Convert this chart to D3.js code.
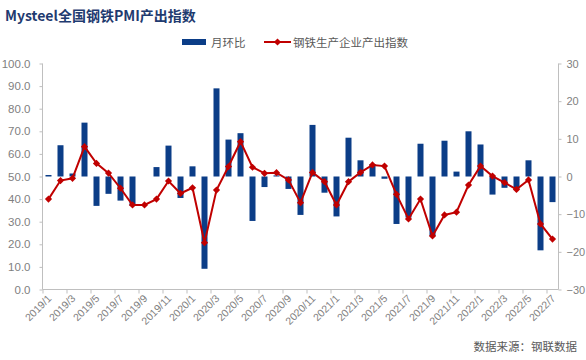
<!DOCTYPE html>
<html><head><meta charset="utf-8">
<script src="https://cdn.jsdelivr.net/npm/d3@7"></script>
<style>body{margin:0;background:#fff}svg{display:block}</style>
</head><body>
<svg id="c" width="586" height="360"></svg>
<script>
const months = ["2019/1","2019/2","2019/3","2019/4","2019/5","2019/6","2019/7","2019/8","2019/9","2019/10","2019/11","2019/12",
"2020/1","2020/2","2020/3","2020/4","2020/5","2020/6","2020/7","2020/8","2020/9","2020/10","2020/11","2020/12",
"2021/1","2021/2","2021/3","2021/4","2021/5","2021/6","2021/7","2021/8","2021/9","2021/10","2021/11","2021/12",
"2022/1","2022/2","2022/3","2022/4","2022/5","2022/6","2022/7"];
const momChange = [0.4,8.3,0.8,14.3,-7.8,-4.6,-6.4,-7.8,0.0,2.5,8.2,-5.7,
2.7,-24.5,23.4,9.8,11.5,-11.8,-2.8,0.3,-3.3,-10.2,13.7,-4.3,
-10.6,10.3,4.3,3.3,-0.6,-12.6,-10.9,8.7,-15.8,9.5,1.3,12.0,
8.5,-4.8,-3.0,-3.4,4.3,-19.6,-6.8];
const outputIndex = [40.0,48.2,49.2,63.2,55.8,51.5,44.8,37.4,37.4,40.0,48.0,42.5,
45.0,20.7,44.0,54.4,65.4,54.1,51.4,51.7,48.5,38.4,51.8,47.7,
37.4,47.7,51.8,55.1,54.6,42.1,31.2,40.0,23.7,33.0,34.2,46.2,
54.6,50.2,47.3,44.3,48.5,29.0,22.3];
const leftTicks = [0,10,20,30,40,50,60,70,80,90,100];
const rightTicks = [-30,-20,-10,0,10,20,30];
const labelMonths = months.filter((d,i)=>i%2===0);

const svg = d3.select("#c");
const L = 42.5, R = 558.5, T = 63.5, B = 289.5;
const gray = "#7f7f7f", axisCol = "#bfbfbf";
const font = "'Liberation Sans', Arial, sans-serif";
const cjk = "'Noto Sans CJK SC', sans-serif";

const x = d3.scaleBand().domain(months).range([L, R]).paddingInner(0.5).paddingOuter(0.25);
const yL = d3.scaleLinear().domain([0,100]).range([B,T]);
const yR = d3.scaleLinear().domain([-30,30]).range([B,T]);

// title
svg.append("text").attr("x",5).attr("y",21).attr("font-family",cjk).attr("font-weight","bold")
  .attr("font-size",14).attr("fill","#1f3b70").text("Mysteel全国钢铁PMI产出指数");

// bars
svg.append("g").selectAll("rect").data(months).join("rect")
  .attr("x", d=>x(d)).attr("width", x.bandwidth())
  .attr("y", (d,i)=>yR(Math.max(0,momChange[i])))
  .attr("height",(d,i)=>Math.abs(yR(momChange[i])-yR(0)))
  .attr("fill","#0b3d87");

// left axis
const gl = svg.append("g").attr("transform",`translate(${L},0)`)
  .call(d3.axisLeft(yL).tickValues(leftTicks).tickFormat(d3.format(".1f")).tickSize(3).tickPadding(9));
// right axis
const gr = svg.append("g").attr("transform",`translate(${R},0)`)
  .call(d3.axisRight(yR).tickValues(rightTicks).tickSize(3).tickPadding(5));
// bottom axis
const xb = d3.scaleLinear().domain([0, months.length]).range([L, R]);
const gb = svg.append("g").attr("transform",`translate(0,${B})`)
  .call(d3.axisBottom(xb).tickValues(d3.range(0, months.length, 2)).tickSize(4).tickFormat(""));
gb.select(".domain").attr("d", `M${L},0H${R}`);
[gl,gr,gb].forEach(g=>{
  g.select(".domain").attr("stroke",axisCol);
  g.selectAll(".tick line").attr("stroke",axisCol);
  g.selectAll("text").attr("fill",gray).attr("font-family",font).attr("font-size",11.5);
});
gr.selectAll("text").attr("font-size",11);
gl.select(".domain").attr("d",`M0,${B}V${T}`);
gr.select(".domain").attr("d",`M0,${B}V${T}`);

// x labels
svg.append("g").selectAll("text").data(labelMonths).join("text")
  .attr("transform", d=>`translate(${x(d)+x.bandwidth()/2+1},${B+7}) rotate(-45)`)
  .attr("text-anchor","end").attr("dy","0.35em")
  .attr("font-family",font).attr("font-size",10.5).attr("fill",gray).text(d=>d);

// line
const lineColor = "#c00000";
const line = d3.line().x((d,i)=>x(months[i])+x.bandwidth()/2).y(d=>yL(d));
svg.append("path").datum(outputIndex).attr("d",line).attr("fill","none")
  .attr("stroke",lineColor).attr("stroke-width",2);
const diamond = d3.symbol().type(d3.symbolSquare).size(26);
svg.append("g").selectAll("path").data(outputIndex).join("path")
  .attr("d",diamond)
  .attr("transform",(d,i)=>`translate(${x(months[i])+x.bandwidth()/2},${yL(d)}) rotate(45)`)
  .attr("fill",lineColor);

// legend
const lg = svg.append("g");
lg.append("rect").attr("x",182).attr("y",39).attr("width",24).attr("height",6).attr("fill","#0b3d87");
lg.append("text").attr("x",211).attr("y",46.5).attr("font-family",cjk).attr("font-size",11.5).attr("fill","#595959").text("月环比");
lg.append("line").attr("x1",264).attr("x2",291).attr("y1",42).attr("y2",42).attr("stroke",lineColor).attr("stroke-width",2);
lg.append("path").attr("d",diamond).attr("transform","translate(277.5,42) rotate(45)").attr("fill",lineColor);
lg.append("text").attr("x",293).attr("y",46.5).attr("font-family",cjk).attr("font-size",11.5).attr("fill","#595959").text("钢铁生产企业产出指数");

// source
svg.append("text").attr("x",577).attr("y",351).attr("text-anchor","end").attr("font-family",cjk)
  .attr("font-size",11.5).attr("fill","#595959").text("数据来源：钢联数据");
</script>
</body></html>
